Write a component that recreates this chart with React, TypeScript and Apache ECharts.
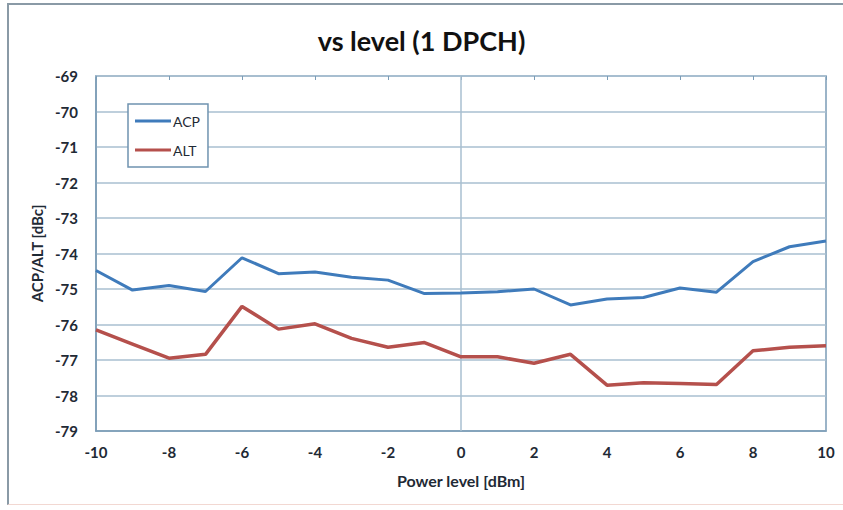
import React, { useEffect, useRef } from "react";
import * as echarts from "echarts";

const powerLevels = [-10, -9, -8, -7, -6, -5, -4, -3, -2, -1, 0, 1, 2, 3, 4, 5, 6, 7, 8, 9, 10];
const acpValues = [-74.48, -75.03, -74.9, -75.07, -74.12, -74.57, -74.52, -74.67, -74.75, -75.13, -75.11, -75.08, -75.0, -75.45, -75.28, -75.24, -74.97, -75.09, -74.23, -73.81, -73.65];
const altValues = [-76.15, -76.55, -76.95, -76.84, -75.49, -76.13, -75.98, -76.39, -76.64, -76.51, -76.91, -76.91, -77.09, -76.84, -77.71, -77.64, -77.66, -77.69, -76.74, -76.64, -76.6];
const seriesNames = ["ACP", "ALT"];
const titleText = "vs level (1 DPCH)";
const xAxisTitle = "Power level [dBm]";
const yAxisTitle = "ACP/ALT [dBc]";

const FONT = "Lato, 'Open Sans', sans-serif";
const GRID = "#a9bfd0";
const AXIS = "#7b9cb6";
const TEXT = "#1f2a35";

export default function App() {
  const ref = useRef<HTMLDivElement>(null);
  useEffect(() => {
    if (!ref.current) return;
    const chart = echarts.init(ref.current, undefined, { renderer: "svg" });
    const toPairs = (vals: number[]) => powerLevels.map((x, i) => [x, vals[i]]);
    chart.setOption({
      animation: false,
      backgroundColor: "#ffffff",
      title: {
        text: titleText,
        left: "center",
        top: 22,
        textStyle: { fontFamily: FONT, fontSize: 27, fontWeight: "bold", color: "#111" },
      },
      legend: {
        orient: "vertical",
        left: 128,
        top: 104,
        padding: [10, 8, 10, 7],
        itemGap: 15,
        itemWidth: 36,
        itemHeight: 3,
        icon: "rect",
        backgroundColor: "#fff",
        borderColor: "#6f93b0",
        borderWidth: 1.5,
        textStyle: { fontFamily: FONT, fontSize: 14, color: TEXT, padding: [0, 0, 0, -3] },
        data: seriesNames,
      },
      grid: {
        left: 96,
        right: 17,
        top: 76,
        bottom: 79,
        show: true,
        borderColor: AXIS,
        borderWidth: 1.5,
      },
      xAxis: [
        {
          type: "value",
          min: -10,
          max: 10,
          interval: 2,
          name: xAxisTitle,
          nameLocation: "middle",
          nameGap: 41,
          nameTextStyle: { fontFamily: FONT, fontSize: 16, fontWeight: "bold", color: TEXT },
          axisLine: { show: true, lineStyle: { color: AXIS, width: 1.5 } },
          axisTick: { show: false },
          axisLabel: { fontFamily: FONT, fontSize: 15, fontWeight: "bold", color: TEXT, margin: 13 },
          splitLine: { show: false },
        },
        {
          type: "value",
          position: "top",
          min: -10,
          max: 10,
          interval: 2,
          axisLine: { show: true, lineStyle: { color: GRID, width: 1.5 } },
          axisTick: { show: true, inside: true, length: 4, lineStyle: { color: AXIS } },
          axisLabel: { show: false },
          splitLine: { show: false },
        },
      ],
      yAxis: {
        type: "value",
        min: -79,
        max: -69,
        interval: 1,
        name: yAxisTitle,
        nameLocation: "middle",
        nameGap: 42,
        nameTextStyle: { fontFamily: FONT, fontSize: 15, fontWeight: "bold", color: TEXT },
        axisLine: { show: true, onZero: false, lineStyle: { color: AXIS, width: 1.5 } },
        axisTick: { show: false },
        axisLabel: { fontFamily: FONT, fontSize: 15, fontWeight: "bold", color: TEXT, margin: 18 },
        splitLine: { show: true, lineStyle: { color: GRID, width: 1.5 } },
      },
      series: [
        {
          name: seriesNames[0],
          type: "line",
          xAxisIndex: 0,
          data: toPairs(acpValues),
          symbol: "none",
          lineStyle: { color: "#3f7bbb", width: 3 },
          itemStyle: { color: "#3f7bbb" },
          z: 3,
          markLine: {
            silent: true,
            symbol: "none",
            label: { show: false },
            lineStyle: { color: GRID, width: 1.5, type: "solid" },
            data: [{ xAxis: 0 }],
            z: 1,
          },
        },
        {
          name: seriesNames[1],
          type: "line",
          xAxisIndex: 0,
          data: toPairs(altValues),
          symbol: "none",
          lineStyle: { color: "#b5504c", width: 3.5 },
          itemStyle: { color: "#b5504c" },
          z: 3,
        },
      ],
    });
    return () => chart.dispose();
  }, []);
  return (
    <div style={{ position: "fixed", left: 0, top: 0, width: 843, height: 510, background: "#fff" }}>
      <div ref={ref} style={{ position: "absolute", left: 0, top: 0, width: 843, height: 510 }} />
      <div
        style={{
          position: "absolute",
          left: 7,
          top: 3,
          width: 843 - 7,
          height: 502,
          borderLeft: "2px solid #8a9aa6",
          borderTop: "2px solid #8a9aa6",
          borderBottom: "1px solid #f2d8d2",
          boxSizing: "border-box",
          pointerEvents: "none",
        }}
      />
    </div>
  );
}
